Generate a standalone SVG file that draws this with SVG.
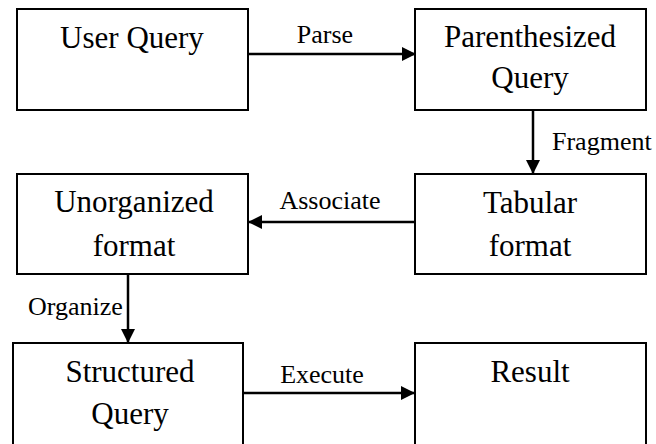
<svg xmlns="http://www.w3.org/2000/svg" width="656" height="444" viewBox="0 0 656 444">
<style>
.box{fill:#fff;stroke:#000;stroke-width:2}
text{font-family:'Liberation Serif','Times New Roman','DejaVu Serif',serif;fill:#000}
.t{font-size:31px;text-anchor:middle}
.l{font-size:26px}
.c{stroke:#000;stroke-width:2.5;fill:none;marker-end:url(#ah)}
</style>
<defs>
<marker id="ah" markerUnits="userSpaceOnUse" markerWidth="14" markerHeight="14" viewBox="0 0 14 14" refX="13" refY="7" orient="auto">
<path d="M0,0 L14,7 L0,14 Z" fill="#000"/>
</marker>
</defs>
<rect width="656" height="444" fill="#fff"/>
<g id="connectors" font-family="Liberation Serif, serif">
<line class="c" x1="248" y1="54" x2="415" y2="54"/>
<line class="c" x1="533" y1="110" x2="533" y2="173"/>
<line class="c" x1="415" y1="222" x2="249" y2="222"/>
<line class="c" x1="128" y1="274" x2="128" y2="342"/>
<line class="c" x1="243" y1="393" x2="414" y2="393"/>
<text class="l" x="325" y="43" text-anchor="middle">Parse</text>
<text class="l" x="552" y="150">Fragment</text>
<text class="l" x="330" y="209" text-anchor="middle">Associate</text>
<text class="l" x="28" y="315">Organize</text>
<text class="l" x="322" y="383" text-anchor="middle">Execute</text>
</g>
<g id="user-query" font-family="Liberation Serif, serif">
<rect class="box" x="17" y="9" width="231" height="101"/>
<text class="t" x="132" y="48">User Query</text>
</g>
<g id="parenthesized-query" font-family="Liberation Serif, serif">
<rect class="box" x="415" y="9" width="231" height="101"/>
<text class="t" x="530" y="47">Parenthesized</text>
<text class="t" x="530" y="88">Query</text>
</g>
<g id="tabular-format" font-family="Liberation Serif, serif">
<rect class="box" x="415" y="174" width="231" height="100"/>
<text class="t" x="530" y="213">Tabular</text>
<text class="t" x="530" y="256">format</text>
</g>
<g id="unorganized-format" font-family="Liberation Serif, serif">
<rect class="box" x="17" y="174" width="231" height="100"/>
<text class="t" x="134" y="212">Unorganized</text>
<text class="t" x="134" y="256">format</text>
</g>
<g id="structured-query" font-family="Liberation Serif, serif">
<rect class="box" x="13" y="343" width="230" height="104"/>
<text class="t" x="130" y="382">Structured</text>
<text class="t" x="130" y="424">Query</text>
</g>
<g id="result" font-family="Liberation Serif, serif">
<rect class="box" x="415" y="343" width="231" height="104"/>
<text class="t" x="530" y="382">Result</text>
</g>
</svg>
